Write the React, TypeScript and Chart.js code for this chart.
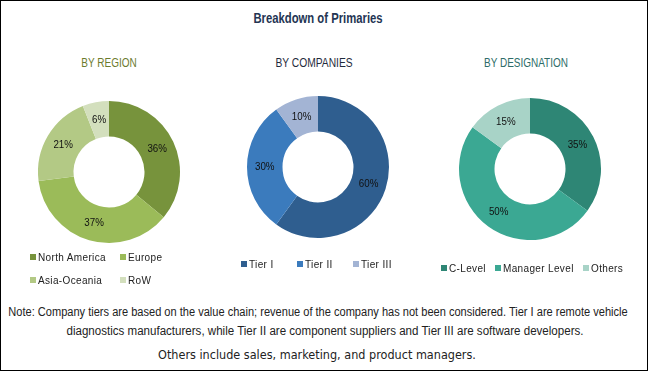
import React, { useEffect, useLayoutEffect, useRef } from "react";
import { Chart, registerables } from "chart.js";

Chart.register(...registerables);

const chartTitle = "Breakdown of Primaries";

const regionTitle = "BY REGION";
const regionLabels = ["North America", "Europe", "Asia-Oceania", "RoW"];
const regionValues = [36, 37, 21, 6];
const regionColors = ["#77933c", "#9bbb59", "#b3c985", "#d3dfbd"];

const companyTitle = "BY COMPANIES";
const companyLabels = ["Tier I", "Tier II", "Tier III"];
const companyValues = [60, 30, 10];
const companyColors = ["#2f5e8f", "#3b7bbd", "#a3b4d4"];

const designationTitle = "BY DESIGNATION";
const designationLabels = ["C-Level", "Manager Level", "Others"];
const designationValues = [35, 50, 15];
const designationColors = ["#2e8675", "#3ba893", "#a8d3c7"];

const noteLines = [
  "Note:  Company tiers are based on the value chain; revenue of the company has not been considered. Tier I are remote vehicle",
  "diagnostics manufacturers, while Tier II are component suppliers and Tier III are software developers.",
];
const othersNote = "Others include sales, marketing, and product managers.";

const SANS = "'Liberation Sans', Arial, sans-serif";

const pctLabels = {
  id: "pctLabels",
  afterDatasetsDraw(chart: any) {
    const ctx = chart.ctx;
    const meta = chart.getDatasetMeta(0);
    const data = chart.data.datasets[0].data;
    ctx.save();
    ctx.font = `11.5px ${SANS}`;
    ctx.fillStyle = "#111111";
    ctx.textAlign = "center";
    ctx.textBaseline = "middle";
    meta.data.forEach((arc: any, i: number) => {
      const p = arc.tooltipPosition();
      ctx.save();
      ctx.translate(p.x, p.y);
      ctx.scale(0.85, 1);
      ctx.fillText(`${data[i]}%`, 0, 0);
      ctx.restore();
    });
    ctx.restore();
  },
};

function Donut(props: { values: number[]; labels: string[]; colors: string[]; cx: number; cy: number }) {
  const ref = useRef<HTMLCanvasElement>(null);
  useEffect(() => {
    if (!ref.current) return;
    const chart = new Chart(ref.current, {
      type: "doughnut",
      data: {
        labels: props.labels,
        datasets: [{ data: props.values, backgroundColor: props.colors, borderWidth: 0 }],
      },
      options: {
        responsive: false,
        animation: false,
        radius: 71,
        cutout: "50%",
        events: [],
        layout: { padding: 0 },
        plugins: { legend: { display: false }, tooltip: { enabled: false } },
      } as any,
      plugins: [pctLabels],
    });
    return () => chart.destroy();
  }, []);
  return (
    <canvas
      ref={ref}
      width={160}
      height={160}
      style={{ position: "absolute", left: props.cx - 80, top: props.cy - 80, width: 160, height: 160 }}
    />
  );
}

function FitText(props: { text: string; cx: number; cy: number; width: number; style: React.CSSProperties }) {
  const ref = useRef<HTMLSpanElement>(null);
  useLayoutEffect(() => {
    const el = ref.current;
    if (!el) return;
    el.style.transform = "translate(-50%,-50%)";
    const w = el.offsetWidth;
    el.style.transform = `translate(-50%,-50%) scaleX(${props.width / w})`;
  }, []);
  return (
    <span
      ref={ref}
      style={{
        position: "absolute",
        left: props.cx,
        top: props.cy,
        whiteSpace: "nowrap",
        transform: "translate(-50%,-50%)",
        lineHeight: 1,
        ...props.style,
      }}
    >
      {props.text}
    </span>
  );
}

function LegendItem(props: { label: string; color: string; x: number; y: number }) {
  return (
    <div style={{ position: "absolute", left: props.x, top: props.y - 6, height: 12, display: "flex", alignItems: "center", whiteSpace: "nowrap" }}>
      <span style={{ width: 6, height: 6, background: props.color, display: "inline-block", marginRight: 2 }} />
      <span style={{ font: `10px ${SANS}`, letterSpacing: "0.35px", color: "#222" }}>{props.label}</span>
    </div>
  );
}

export default function App() {
  const regionLegendPos = [
    [30, 257],
    [120, 257],
    [30, 280],
    [120, 280],
  ];
  const companyLegendPos = [
    [241, 264],
    [297, 264],
    [353, 264],
  ];
  const designationLegendPos = [
    [441, 268],
    [495, 268],
    [583, 268],
  ];
  return (
    <div
      style={{
        position: "absolute",
        left: 0,
        top: 0,
        width: 648,
        height: 371,
        boxSizing: "border-box",
        border: "1px solid #000",
        background: "#fff",
        overflow: "hidden",
      }}
    >
      <div style={{ position: "absolute", left: -1, top: -1, width: 648, height: 371 }}>
        <FitText text={chartTitle} cx={317.5} cy={18} width={129} style={{ font: `bold 14px ${SANS}`, color: "#243553" }} />

        <FitText text={regionTitle} cx={108.5} cy={62.5} width={55} style={{ font: `12px ${SANS}`, color: "#6c7b2e" }} />
        <FitText text={companyTitle} cx={313.5} cy={62.5} width={77} style={{ font: `12px ${SANS}`, color: "#1f2b3c" }} />
        <FitText text={designationTitle} cx={526} cy={62.5} width={84} style={{ font: `12px ${SANS}`, color: "#2d6c68" }} />

        <Donut values={regionValues} labels={regionLabels} colors={regionColors} cx={108.8} cy={172} />
        <Donut values={companyValues} labels={companyLabels} colors={companyColors} cx={317.5} cy={167} />
        <Donut values={designationValues} labels={designationLabels} colors={designationColors} cx={530} cy={169} />

        {regionLabels.map((l, i) => (
          <LegendItem key={l} label={l} color={regionColors[i]} x={regionLegendPos[i][0]} y={regionLegendPos[i][1]} />
        ))}
        {companyLabels.map((l, i) => (
          <LegendItem key={l} label={l} color={companyColors[i]} x={companyLegendPos[i][0]} y={companyLegendPos[i][1]} />
        ))}
        {designationLabels.map((l, i) => (
          <LegendItem key={l} label={l} color={designationColors[i]} x={designationLegendPos[i][0]} y={designationLegendPos[i][1]} />
        ))}

        <FitText text={noteLines[0]} cx={317.5} cy={311.5} width={619} style={{ font: `12px ${SANS}`, color: "#222" }} />
        <FitText text={noteLines[1]} cx={324.5} cy={330.5} width={517} style={{ font: `12px ${SANS}`, color: "#222" }} />
        <FitText text={othersNote} cx={317} cy={354} width={318} style={{ font: "12.5px 'DejaVu Sans', sans-serif", color: "#222" }} />
      </div>
    </div>
  );
}
